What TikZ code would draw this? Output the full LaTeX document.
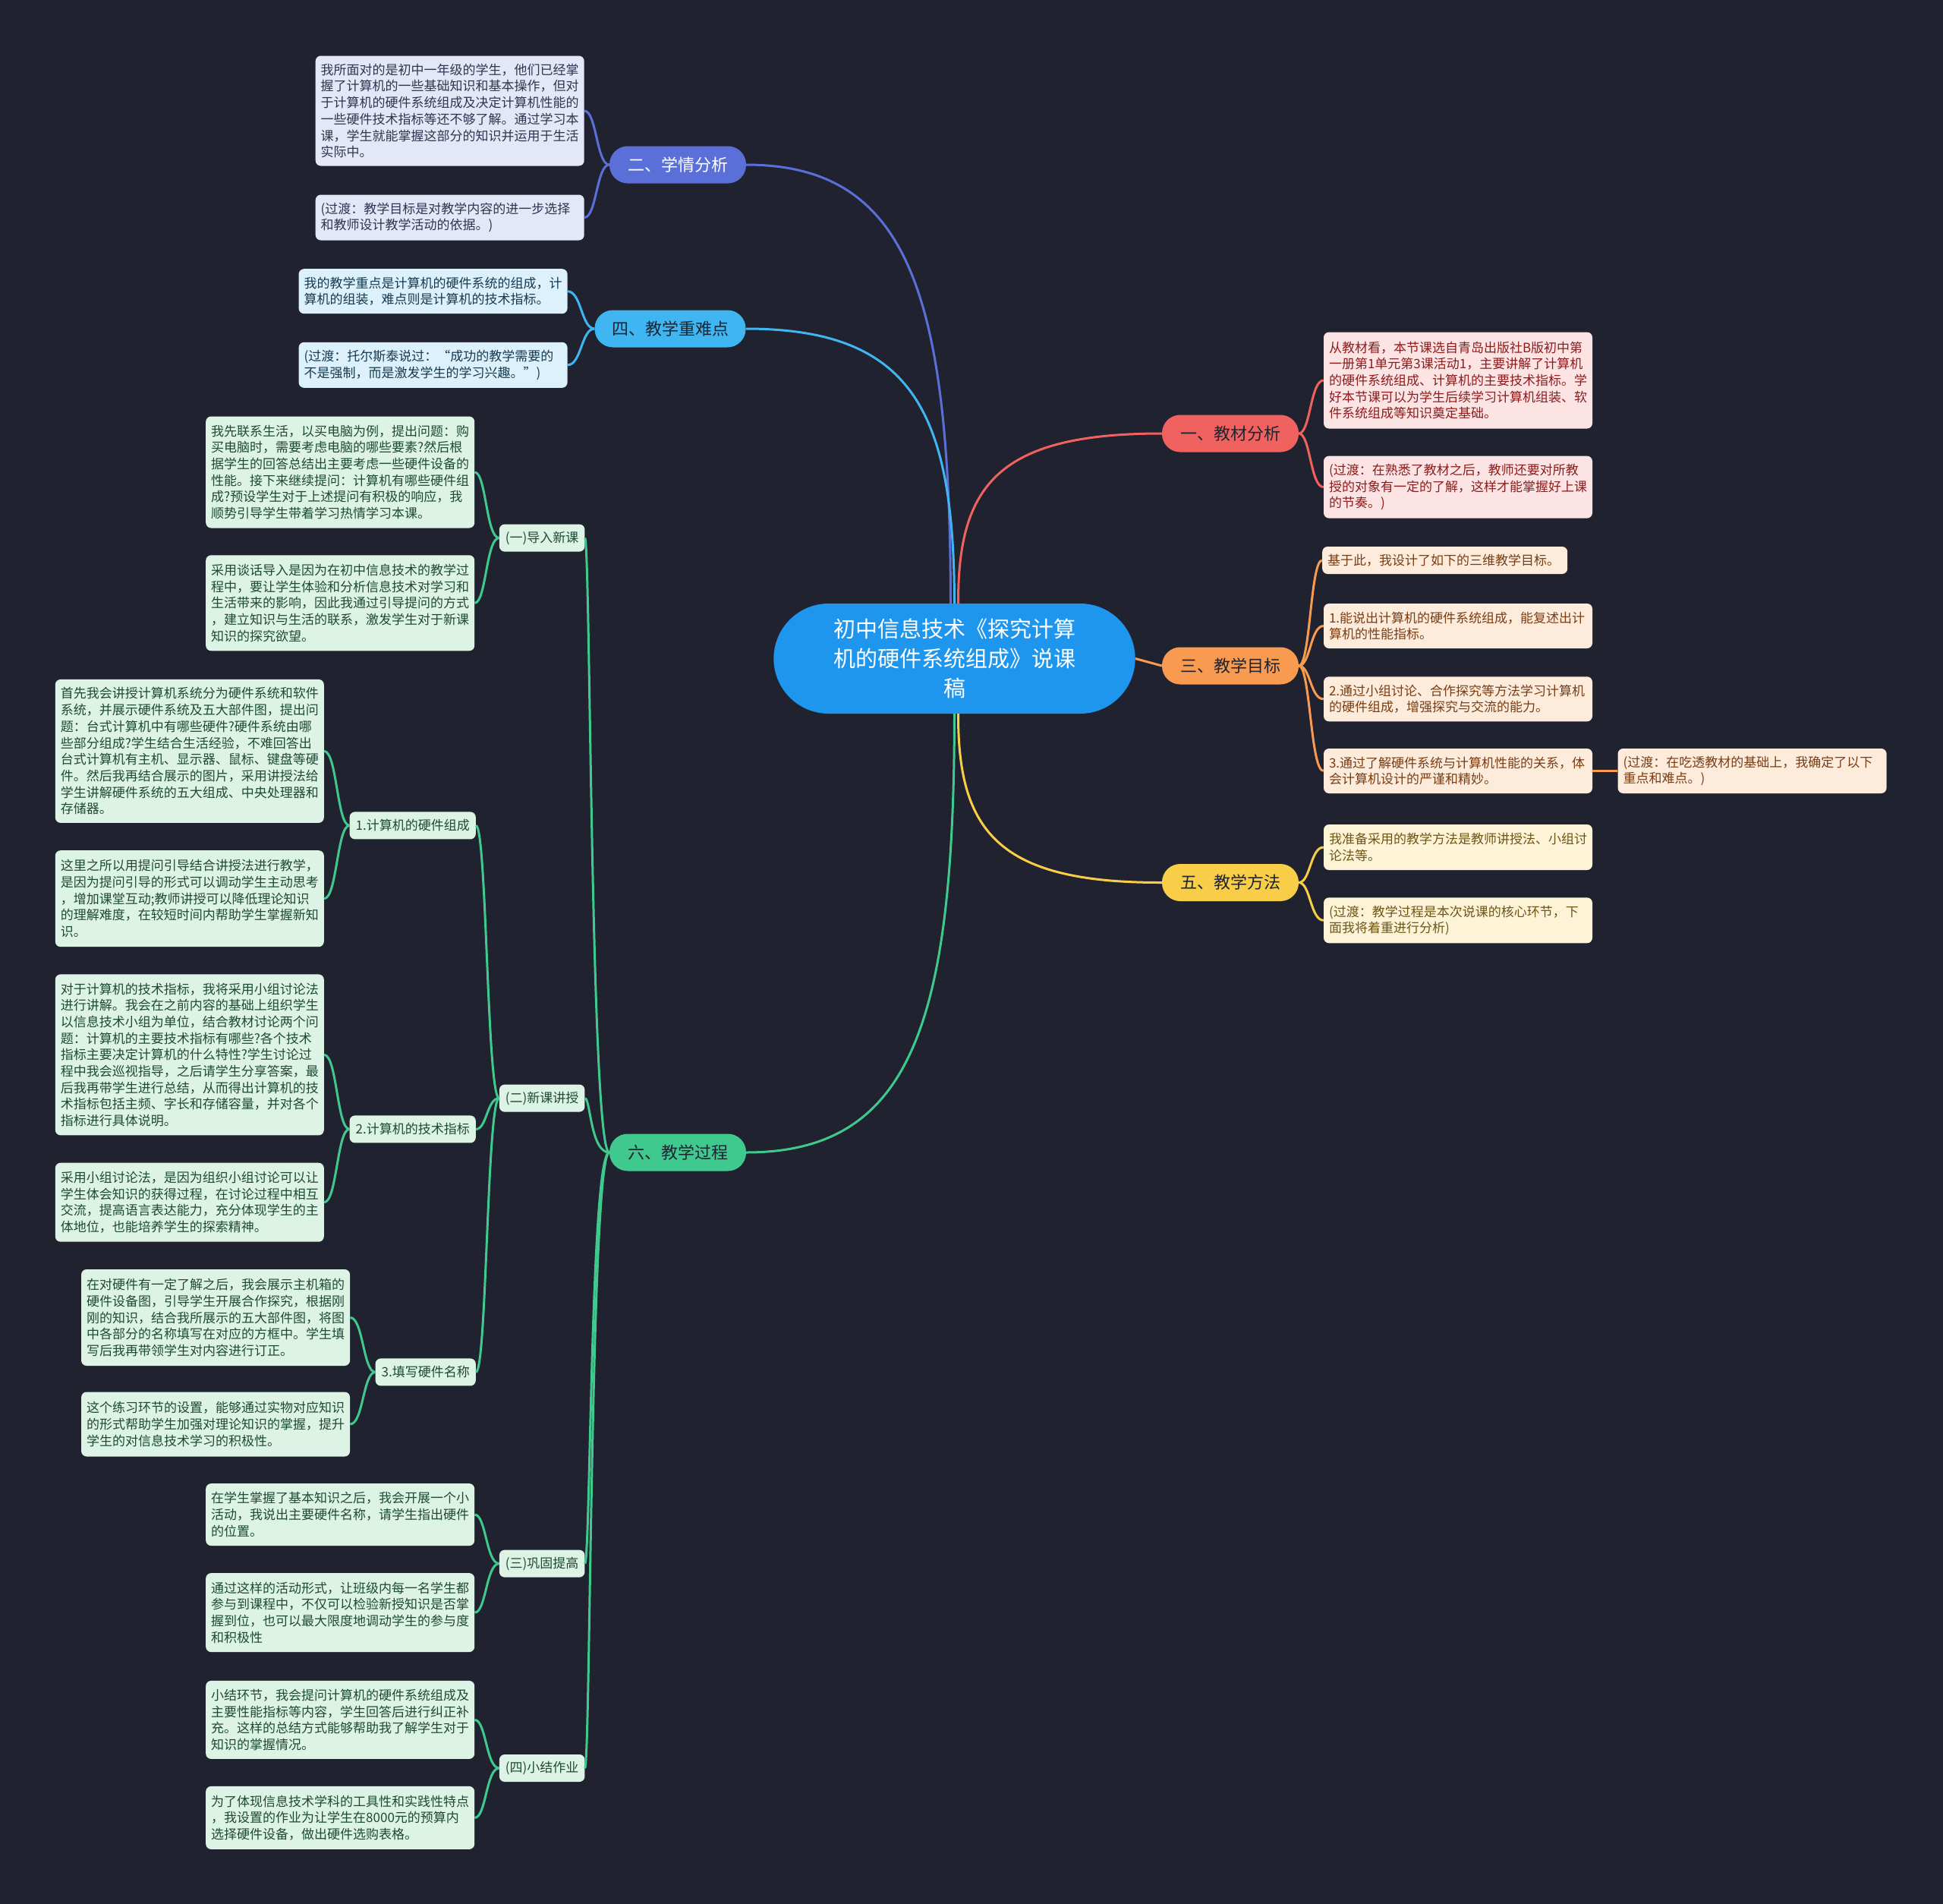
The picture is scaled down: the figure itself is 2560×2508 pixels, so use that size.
\documentclass[tikz,border=0pt]{standalone}
\usepackage{fontspec}
\setmainfont{Noto Sans CJK SC}
\usetikzlibrary{shapes.misc}
\definecolor{bg}{HTML}{20232F}
\definecolor{cmain}{HTML}{1E96EE}
\definecolor{cb}{HTML}{5B6FD9}
\definecolor{cc}{HTML}{3FB6F2}
\definecolor{cr}{HTML}{F0625F}
\definecolor{co}{HTML}{F89A50}
\definecolor{cy}{HTML}{F8CD48}
\definecolor{cg}{HTML}{3FC98E}
\definecolor{fb}{HTML}{E4E7F8}
\definecolor{tb}{HTML}{2F3550}
\definecolor{fc}{HTML}{DCF1FB}
\definecolor{tc}{HTML}{173A50}
\definecolor{fr}{HTML}{FDE4E4}
\definecolor{tr}{HTML}{8C1C1C}
\definecolor{fo}{HTML}{FDEBDC}
\definecolor{to}{HTML}{7A3D12}
\definecolor{fy}{HTML}{FDF4D8}
\definecolor{ty}{HTML}{6E5515}
\definecolor{fg}{HTML}{DDF3E6}
\definecolor{tg}{HTML}{1E4A34}
\definecolor{pdark}{HTML}{1E2430}
\begin{document}
\begin{tikzpicture}[x=1pt,y=-1pt,
  leaf/.style={rectangle, rounded corners=7pt, inner xsep=7pt, inner ysep=0pt,
    text width=340pt, align=left, font=\fontsize{17}{21.7}\selectfont},
  lb/.style={leaf, fill=fb, text=tb},
  lc/.style={leaf, fill=fc, text=tc},
  lr/.style={leaf, fill=fr, text=tr},
  lo/.style={leaf, fill=fo, text=to},
  ly/.style={leaf, fill=fy, text=ty},
  lg/.style={leaf, fill=fg, text=tg},
  hh/.style={minimum height=#1},
  pill/.style={rectangle, rounded corners=24pt, minimum width=180pt, minimum height=49pt,
    inner xsep=10pt, font=\fontsize{22}{26}\selectfont, text=pdark},
  subnode/.style={rectangle, rounded corners=7pt, inner xsep=8pt, inner ysep=0pt,
    minimum height=36pt, fill=fg, text=tg, font=\fontsize{17}{20}\selectfont, anchor=east},
  mainnode/.style={rounded rectangle, fill=cmain, text=white, minimum width=483pt,
    minimum height=145pt, align=center, font=\fontsize{29}{39}\selectfont},
  conn/.style={line width=3pt},
  brk/.style={to path={.. controls (#1 |- \tikztostart) and (#1 |- \tikztotarget) .. (\tikztotarget)}}
]
\fill[bg] (0,0) rectangle (2560,2508);
\useasboundingbox (0,0) rectangle (2560,2508);

% spines
\coordinate (xq) at (786,0);
\coordinate (xz) at (766,0);
\coordinate (xr) at (1726.5,0);
\coordinate (xg) at (778,0);
\coordinate (xk) at (641.5,0);
\coordinate (xa) at (640.5,0);
\coordinate (xh) at (444,0);
\coordinate (xt) at (478.5,0);

% center
\node[mainnode] (c) at (1257.5,867.5) {初中信息技术《探究计算\\机的硬件系统组成》说课\\稿};

% branch pills
\node[pill, fill=cb, text=white] (p2) at (893,217) {二、学情分析};
\node[pill, fill=cc, minimum width=199pt] (p4) at (883,433) {四、教学重难点};
\node[pill, fill=cr] (p1) at (1621,571) {一、教材分析};
\node[pill, fill=co] (p3) at (1621,877) {三、教学目标};
\node[pill, fill=cy] (p5) at (1621,1162.5) {五、教学方法};
\node[pill, fill=cg] (p6) at (893,1518) {六、教学过程};

% 学情分析
\node[lb, hh=145pt] (L1) at (592.7,146) {我所面对的是初中一年级的学生，他们已经掌\\握了计算机的一些基础知识和基本操作，但对\\于计算机的硬件系统组成及决定计算机性能的\\一些硬件技术指标等还不够了解。通过学习本\\课，学生就能掌握这部分的知识并运用于生活\\实际中。};
\node[lb, hh=60pt] (L2) at (592.7,286.5) {(过渡：教学目标是对教学内容的进一步选择\\和教师设计教学活动的依据。)};

% 教学重难点
\node[lc, hh=59pt] (L3) at (570.6,383.7) {我的教学重点是计算机的硬件系统的组成，计\\算机的组装，难点则是计算机的技术指标。};
\node[lc, hh=60pt] (L4) at (570.6,480.8) {(过渡：托尔斯泰说过：“成功的教学需要的\\不是强制，而是激发学生的学习兴趣。”)};

% 教材分析
\node[lr, hh=127pt] (R1) at (1921,501) {从教材看，本节课选自青岛出版社B版初中第\\一册第1单元第3课活动1，主要讲解了计算机\\的硬件系统组成、计算机的主要技术指标。学\\好本节课可以为学生后续学习计算机组装、软\\件系统组成等知识奠定基础。};
\node[lr, hh=82pt] (R2) at (1921,641.6) {(过渡：在熟悉了教材之后，教师还要对所教\\授的对象有一定的了解，这样才能掌握好上课\\的节奏。)};

% 教学目标
\node[lo, hh=36pt, text width=309pt] (R3) at (1903.7,738) {基于此，我设计了如下的三维教学目标。};
\node[lo, hh=59pt] (R4) at (1921,824.5) {1.能说出计算机的硬件系统组成，能复述出计\\算机的性能指标。};
\node[lo, hh=59pt] (R5) at (1921,920.8) {2.通过小组讨论、合作探究等方法学习计算机\\的硬件组成，增强探究与交流的能力。};
\node[lo, hh=59pt] (R6) at (1921,1015.5) {3.通过了解硬件系统与计算机性能的关系，体\\会计算机设计的严谨和精妙。};
\node[lo, hh=59pt] (R7) at (2308.6,1015.5) {(过渡：在吃透教材的基础上，我确定了以下\\重点和难点。)};

% 教学方法
\node[ly, hh=60pt] (R8) at (1921,1116) {我准备采用的教学方法是教师讲授法、小组讨\\论法等。};
\node[ly, hh=60pt] (R9) at (1921,1212.3) {(过渡：教学过程是本次说课的核心环节，下\\面我将着重进行分析)};

% 教学过程 sub nodes
\node[subnode] (s1) at (770.6,708.6) {(一)导入新课};
\node[subnode] (s2) at (770.6,1446.6) {(二)新课讲授};
\node[subnode] (s3) at (770.6,2059.6) {(三)巩固提高};
\node[subnode] (s4) at (770.6,2329) {(四)小结作业};
\node[subnode] (t1) at (627,1087.4) {1.计算机的硬件组成};
\node[subnode] (t2) at (627,1487.4) {2.计算机的技术指标};
\node[subnode] (t3) at (627,1807.4) {3.填写硬件名称};

\node[lg, hh=147pt] (A1) at (448.2,622) {我先联系生活，以买电脑为例，提出问题：购\\买电脑时，需要考虑电脑的哪些要素?然后根\\据学生的回答总结出主要考虑一些硬件设备的\\性能。接下来继续提问：计算机有哪些硬件组\\成?预设学生对于上述提问有积极的响应，我\\顺势引导学生带着学习热情学习本课。};
\node[lg, hh=126pt] (A2) at (448.2,794.3) {采用谈话导入是因为在初中信息技术的教学过\\程中，要让学生体验和分析信息技术对学习和\\生活带来的影响，因此我通过引导提问的方式\\，建立知识与生活的联系，激发学生对于新课\\知识的探究欲望。};

\node[lg, hh=189pt] (B1) at (249.8,989.4) {首先我会讲授计算机系统分为硬件系统和软件\\系统，并展示硬件系统及五大部件图，提出问\\题：台式计算机中有哪些硬件?硬件系统由哪\\些部分组成?学生结合生活经验，不难回答出\\台式计算机有主机、显示器、鼠标、键盘等硬\\件。然后我再结合展示的图片，采用讲授法给\\学生讲解硬件系统的五大组成、中央处理器和\\存储器。};
\node[lg, hh=127pt] (B2) at (249.8,1183.7) {这里之所以用提问引导结合讲授法进行教学，\\是因为提问引导的形式可以调动学生主动思考\\，增加课堂互动;教师讲授可以降低理论知识\\的理解难度，在较短时间内帮助学生掌握新知\\识。};
\node[lg, hh=212pt] (B3) at (249.8,1389.4) {对于计算机的技术指标，我将采用小组讨论法\\进行讲解。我会在之前内容的基础上组织学生\\以信息技术小组为单位，结合教材讨论两个问\\题：计算机的主要技术指标有哪些?各个技术\\指标主要决定计算机的什么特性?学生讨论过\\程中我会巡视指导，之后请学生分享答案，最\\后我再带学生进行总结，从而得出计算机的技\\术指标包括主频、字长和存储容量，并对各个\\指标进行具体说明。};
\node[lg, hh=104pt] (B4) at (249.8,1583.7) {采用小组讨论法，是因为组织小组讨论可以让\\学生体会知识的获得过程，在讨论过程中相互\\交流，提高语言表达能力，充分体现学生的主\\体地位，也能培养学生的探索精神。};
\node[lg, hh=127pt] (B5) at (284.1,1735.5) {在对硬件有一定了解之后，我会展示主机箱的\\硬件设备图，引导学生开展合作探究，根据刚\\刚的知识，结合我所展示的五大部件图，将图\\中各部分的名称填写在对应的方框中。学生填\\写后我再带领学生对内容进行订正。};
\node[lg, hh=85pt] (B6) at (284.1,1876) {这个练习环节的设置，能够通过实物对应知识\\的形式帮助学生加强对理论知识的掌握，提升\\学生的对信息技术学习的积极性。};

\node[lg, hh=82pt] (C1) at (448.2,1995.1) {在学生掌握了基本知识之后，我会开展一个小\\活动，我说出主要硬件名称，请学生指出硬件\\的位置。};
\node[lg, hh=104pt] (C2) at (448.2,2124.1) {通过这样的活动形式，让班级内每一名学生都\\参与到课程中，不仅可以检验新授知识是否掌\\握到位，也可以最大限度地调动学生的参与度\\和积极性};
\node[lg, hh=103pt] (D1) at (448.2,2265.4) {小结环节，我会提问计算机的硬件系统组成及\\主要性能指标等内容，学生回答后进行纠正补\\充。这样的总结方式能够帮助我了解学生对于\\知识的掌握情况。};
\node[lg, hh=83pt] (D2) at (448.2,2394.4) {为了体现信息技术学科的工具性和实践性特点\\，我设置的作业为让学生在8000元的预算内\\选择硬件设备，做出硬件选购表格。};

% main connectors
\draw[conn, cb] ([xshift=-5pt]c.north) .. controls (1252,390) and (1198,217) .. (p2.east);
\draw[conn, cc] (c.north) .. controls (1257,542) and (1202,433) .. (p4.east);
\draw[conn, cr] ([xshift=5pt]c.north) .. controls (1262,638) and (1316,571) .. (p1.west);
\draw[conn, co] (c.east) -- (p3.west);
\draw[conn, cy] ([xshift=5pt]c.south) .. controls (1262,1096) and (1316,1163) .. (p5.west);
\draw[conn, cg] (c.south) .. controls (1257,1345) and (1202,1518) .. (p6.east);

% leaf connectors
\draw[conn, cb] (p2.west) to[brk=xq] (L1.east);
\draw[conn, cb] (p2.west) to[brk=xq] (L2.east);
\draw[conn, cc] (p4.west) to[brk=xz] (L3.east);
\draw[conn, cc] (p4.west) to[brk=xz] (L4.east);
\draw[conn, cr] (p1.east) to[brk=xr] (R1.west);
\draw[conn, cr] (p1.east) to[brk=xr] (R2.west);
\draw[conn, co] (p3.east) to[brk=xr] (R3.west);
\draw[conn, co] (p3.east) to[brk=xr] (R4.west);
\draw[conn, co] (p3.east) to[brk=xr] (R5.west);
\draw[conn, co] (p3.east) to[brk=xr] (R6.west);
\draw[conn, co] (R6.east) -- (R7.west);
\draw[conn, cy] (p5.east) to[brk=xr] (R8.west);
\draw[conn, cy] (p5.east) to[brk=xr] (R9.west);

\draw[conn, cg] (p6.west) to[brk=xg] (s1.east);
\draw[conn, cg] (p6.west) to[brk=xg] (s2.east);
\draw[conn, cg] (p6.west) to[brk=xg] (s3.east);
\draw[conn, cg] (p6.west) to[brk=xg] (s4.east);
\draw[conn, cg] (s1.west) to[brk=xa] (A1.east);
\draw[conn, cg] (s1.west) to[brk=xa] (A2.east);
\draw[conn, cg] (s2.west) to[brk=xk] (t1.east);
\draw[conn, cg] (s2.west) to[brk=xk] (t2.east);
\draw[conn, cg] (s2.west) to[brk=xk] (t3.east);
\draw[conn, cg] (t1.west) to[brk=xh] (B1.east);
\draw[conn, cg] (t1.west) to[brk=xh] (B2.east);
\draw[conn, cg] (t2.west) to[brk=xh] (B3.east);
\draw[conn, cg] (t2.west) to[brk=xh] (B4.east);
\draw[conn, cg] (t3.west) to[brk=xt] (B5.east);
\draw[conn, cg] (t3.west) to[brk=xt] (B6.east);
\draw[conn, cg] (s3.west) to[brk=xa] (C1.east);
\draw[conn, cg] (s3.west) to[brk=xa] (C2.east);
\draw[conn, cg] (s4.west) to[brk=xa] (D1.east);
\draw[conn, cg] (s4.west) to[brk=xa] (D2.east);
\end{tikzpicture}
\end{document}
